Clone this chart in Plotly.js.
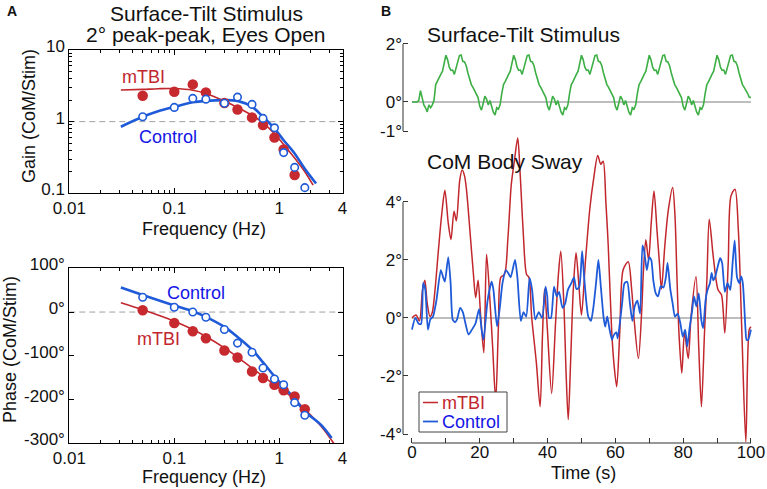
<!DOCTYPE html>
<html>
<head>
<meta charset="utf-8">
<script src="https://cdn.plot.ly/plotly-3.0.1.min.js"></script>
<style>
  html, body { margin: 0; padding: 0; background: #fff; }
  #chart { width: 767px; height: 489px; }
</style>
</head>
<body>
<div id="chart"></div>
<script>
// ---------------- Panel A: frequency response ----------------
const freqPoints   = [0.05, 0.1, 0.15, 0.2, 0.3, 0.4, 0.55, 0.7, 0.9, 1.1, 1.4, 1.75];
const gainMTBI     = [2.30, 2.61, 3.31, 2.56, 1.82, 1.48, 1.14, 0.90, 0.60, 0.41, 0.18];
const gainControl  = [1.17, 1.58, 2.11, 2.06, 1.81, 2.20, 1.74, 1.11, 0.82, 0.37, 0.23, 0.12];
const phaseMTBI    = [4, -25, -44, -60, -88, -104, -136, -151, -166, -179, -193, -222];
const phaseControl = [34, 11, 0, -12, -40, -71, -92, -128, -153, -166, -207, -236];

// model-fit curves
const fitFreqMTBI       = [0.031, 0.05, 0.07, 0.1, 0.15, 0.2, 0.3, 0.4, 0.55, 0.7, 0.9, 1.1, 1.4, 1.75, 2.1];
const fitGainMTBI       = [2.76, 2.82, 2.88, 2.9, 2.75, 2.48, 1.94, 1.58, 1.23, 0.96, 0.68, 0.48, 0.31, 0.2, 0.13];
const fitFreqControl    = [0.031, 0.05, 0.07, 0.1, 0.15, 0.2, 0.3, 0.4, 0.55, 0.7, 0.9, 1.1, 1.4, 1.75, 2.24];
const fitGainControl    = [0.85, 1.17, 1.4, 1.61, 1.86, 1.95, 2.0, 1.95, 1.61, 1.17, 0.8, 0.55, 0.36, 0.22, 0.137];
const fitPhFreqMTBI     = [0.031, 0.05, 0.1, 0.15, 0.2, 0.3, 0.4, 0.55, 0.7, 0.9, 1.1, 1.4, 1.75, 2.5, 3.3];
const fitPhaseMTBI      = [21, 5, -21, -40, -56, -82, -103, -128, -147, -166, -181, -199, -222, -261, -300];
const fitPhFreqControl  = [0.031, 0.05, 0.1, 0.15, 0.2, 0.3, 0.4, 0.55, 0.7, 0.9, 1.1, 1.4, 1.75, 2.5, 3.15];
const fitPhaseControl   = [56, 39, 15, 2, -11, -34, -57, -86, -115, -147, -170, -199, -227, -258, -288];

const freqLimits   = [0.01, 4];
const gainRef      = [1, 1];
const phaseRef     = [0, 0];
const freqTicks    = [0.01, 0.1, 1, 4];
const freqTickText = ['0.01', '0.1', '1', '4'];
const freqMinor    = [0.02,0.03,0.04,0.05,0.06,0.07,0.08,0.09,0.2,0.3,0.4,0.5,0.6,0.7,0.8,0.9,2,3];
const gainTicks    = [0.1, 1, 10];
const gainTickText = ['0.1', '1', '10'];
const gainMinor    = [0.2,0.3,0.4,0.5,0.6,0.7,0.8,0.9,2,3,4,5,6,7,8,9];
const phaseTicks   = [-300, -200, -100, 0, 100];
const phaseTickText= ['-300°', '-200°', '-100°', '0°', '100°'];

// ---------------- Panel B: time series ----------------
// stimulus sampled every 0.5 s from 0 to 100 s
const stimulus = [
  0, 0, 0, 0, 0.05, 0.39, 0.15, -0.1, -0.2, -0.34,
  -0.1, -0.2, -0.1, 0.06, 0.6, 0.7, 0.85, 0.95, 1.06, 1.3,
  1.61, 1.46, 1.2, 1.09, 1.1, 0.95, 1.2, 1.4, 1.6, 1.62,
  1.4, 1.38, 1.25, 1.0, 0.8, 0.6, 0.5, 0.4, 0.3, 0.15,
  -0.15, -0.28, -0.05, 0.2, 0.1, -0.1, 0.05, -0.2, -0.35, -0.45,
  -0.2, -0.25, -0.1, 0.3, 0.6, 0.7, 0.85, 0.95, 1.06, 1.3,
  1.61, 1.46, 1.2, 1.09, 1.1, 0.95, 1.2, 1.4, 1.6, 1.62,
  1.4, 1.38, 1.25, 1.0, 0.8, 0.6, 0.5, 0.4, 0.3, 0.15,
  -0.15, -0.28, -0.05, 0.2, 0.1, -0.1, 0.05, -0.2, -0.35, -0.45,
  -0.2, -0.25, -0.1, 0.3, 0.6, 0.7, 0.85, 0.95, 1.06, 1.3,
  1.61, 1.46, 1.2, 1.09, 1.1, 0.95, 1.2, 1.4, 1.6, 1.62,
  1.4, 1.38, 1.25, 1.0, 0.8, 0.6, 0.5, 0.4, 0.3, 0.15,
  -0.15, -0.28, -0.05, 0.2, 0.1, -0.1, 0.05, -0.2, -0.35, -0.45,
  -0.2, -0.25, -0.1, 0.3, 0.6, 0.7, 0.85, 0.95, 1.06, 1.3,
  1.61, 1.46, 1.2, 1.09, 1.1, 0.95, 1.2, 1.4, 1.6, 1.62,
  1.4, 1.38, 1.25, 1.0, 0.8, 0.6, 0.5, 0.4, 0.3, 0.15,
  -0.15, -0.28, -0.05, 0.2, 0.1, -0.1, 0.05, -0.2, -0.35, -0.45,
  -0.2, -0.25, -0.1, 0.3, 0.6, 0.7, 0.85, 0.95, 1.06, 1.3,
  1.61, 1.46, 1.2, 1.09, 1.1, 0.95, 1.2, 1.4, 1.6, 1.62,
  1.4, 1.38, 1.25, 1.0, 0.8, 0.6, 0.5, 0.41, 0.3, 0.17,
  0.15
];
const stimStart = 0, stimStep = 0.5;

const timeMTBI = [
  0, 1.2, 2.2, 3.1, 3.8, 4.5, 5.3, 6.0, 6.8, 7.8,
  8.8, 9.7, 10.7, 11.5, 12.4, 13.1, 14.1, 14.8, 15.5, 16.1,
  17.1, 18.1, 18.8, 19.5, 20.3, 21.2, 22.0, 23.0, 23.8, 24.7,
  25.5, 26.2, 27.3, 28.3, 29.3, 30.2, 31.2, 31.9, 32.8, 33.8,
  34.5, 35.3, 36.7, 37.8, 38.5, 39.1, 39.9, 41.2, 42.3, 43.2,
  43.9, 44.8, 45.5, 46.1, 46.8, 47.6, 48.4, 49.2, 50.0, 51.2,
  52.5, 53.6, 54.8, 55.7, 56.4, 57.2, 57.9, 58.9, 59.6, 60.4,
  61.3, 62.3, 63.8, 64.8, 65.5, 66.8, 67.8, 68.3, 69.0, 69.8,
  70.6, 71.4, 72.3, 73.0, 73.6, 74.6, 75.6, 76.9, 77.6, 78.2,
  78.8, 79.6, 80.4, 81.5, 82.3, 83.8, 84.6, 85.4, 86.3, 87.0,
  87.7, 88.9, 90.3, 91.3, 92.3, 93.3, 94.1, 95.3, 96.3, 97.3,
  98.5, 99.5, 100
];
const swayMTBI = [
  0, 0.1, -0.1, 0.97, 1.3, 0.5, 0.05, 0.2, 0.97, 2.34,
  3.6, 4.4, 3.27, 2.7, 3.68, 3.35, 4.76, 5.1, 4.9, 4.4,
  3.0, 1.55, 0.7, 1.3, 0.0, -1.2, 2.2, 0.6, -1.0, -2.85,
  -0.3, 1.4, 1.5, 2.75, 4.6, 5.4, 6.2, 5.0, 3.0, 1.5,
  1.4, 0.05, -1.55, -3.06, -0.6, 1.0, -0.3, -2.6, -0.3, 1.5,
  2.3, 0.5, -2.0, -3.5, -1.5, 1.0, 2.25, 1.2, 0.1, 2.0,
  3.8, 4.8, 5.6, 5.3, 5.4, 4.0, 2.5, -0.4, -1.6, -2.37,
  -0.5, 1.66, 1.94, 1.0, 0.0, -1.4, 0.3, 1.66, 2.7, 2.0,
  3.3, 4.38, 3.0, 1.9, 1.0, 2.5, 3.7, 4.5, 3.5, 1.3,
  -0.6, -1.9, -0.5, -1.4, 0.0, 1.43, -1.0, -3.06, -0.5, 1.3,
  3.4, 2.1, 0.97, 0.8, -0.52, 1.9, 4.2, 4.44, 3.0, -0.4,
  -4.27, -0.4, -0.3
];
const timeControl = [
  0, 1.0, 2.0, 2.7, 3.3, 3.9, 4.7, 5.4, 6.2, 7.2,
  8.5, 9.2, 9.7, 10.7, 11.4, 12.0, 12.7, 13.3, 14.2, 15.0,
  15.7, 16.7, 17.7, 18.7, 19.8, 20.6, 21.1, 22.3, 23.5, 24.0,
  25.1, 25.9, 26.7, 27.7, 28.4, 29.1, 30.4, 31.1, 32.1, 32.9,
  33.7, 34.7, 35.4, 36.4, 37.4, 38.4, 39.4, 39.9, 40.4, 41.0,
  41.9, 42.7, 43.4, 44.4, 45.2, 46.0, 47.0, 47.8, 48.5, 49.3,
  50.2, 50.8, 52.0, 52.8, 53.5, 54.3, 55.0, 55.7, 56.5, 57.0,
  57.6, 58.3, 59.0, 59.5, 60.3, 60.7, 61.3, 62.0, 62.7, 63.5,
  64.3, 65.0, 65.7, 66.5, 67.3, 68.0, 68.5, 69.3, 70.0, 70.6,
  71.2, 71.9, 72.6, 73.4, 74.2, 74.9, 75.4, 76.2, 76.9, 77.6,
  78.4, 79.2, 79.9, 80.6, 81.2, 81.9, 82.6, 83.2, 83.9, 84.6,
  85.4, 85.9, 86.6, 87.2, 87.9, 88.4, 88.9, 89.4, 90.2, 90.9,
  91.5, 92.3, 93.1, 93.9, 94.6, 95.2, 95.9, 96.6, 97.1, 97.6,
  98.4, 98.7, 99.2, 100
];
const swayControl = [
  -0.4, 0.0, -0.2, -0.2, 1.2, 1.0, -0.4, -0.05, 0.05, 0.6,
  1.65, 1.4, 1.25, 2.1, 1.2, -0.05, -0.15, -0.05, 0.35, 0.2,
  -0.15, -0.57, -0.4, -0.2, 0.3, -0.45, -0.75, 0.6, 1.25, 1.0,
  -0.29, 0.35, 1.2, 1.65, 1.55, 1.4, 2.0, 1.4, -0.1, 0.2,
  0.05, 1.38, 1.0, -0.05, 0.2, 0.0, 1.08, 0.75, 0.0, 0.0,
  1.08, 0.75, 0.9, 0.35, 0.5, 0.97, 1.2, 1.4, 1.0, 1.05,
  2.3, 1.4, 0.05, -0.1, 0.35, 1.2, 2.0, 1.1, 0.05, -0.3,
  0.05, -0.4, -0.75, -0.6, -0.5, -0.7, -0.2, 0.5, 1.2, 1.25,
  0.5, -0.1, 0.4, 0.6, 0.15, 2.5, 2.3, 1.65, 2.1, 2.0,
  1.3, 0.86, 0.75, 1.1, 1.05, 1.4, 1.9, 1.0, 0.5, 0.05,
  0.15, -0.2, -0.64, -0.4, -0.98, -0.35, 0.2, 0.74, 0.4, 0.85,
  -0.1, -0.35, 0.6, 0.97, 1.2, 1.55, 1.3, 1.4, 1.77, 2.06,
  1.9, 0.9, 1.2, 0.97, 1.9, 2.67, 1.4, 1.2, 1.43, 1.2,
  -0.4, -0.75, -0.75, -0.4
];
const timeLimits    = [0, 100];
const timeTicks     = [0, 20, 40, 60, 80, 100];
const stimTicks     = [-1, 0, 2];
const stimTickText  = ['-1°', '0°', '2°'];
const swayTicks     = [-4, -2, 0, 2, 4];
const swayTickText  = ['-4°', '-2°', '0°', '2°', '4°'];
const legendLabels  = ['mTBI', 'Control'];

// ---------------- styling ----------------
const W = 767, H = 489;
const fx = p => p / W;
const fy = p => 1 - p / H;
const FONT = 'Liberation Sans, Arial, Helvetica, sans-serif';
const RED = '#c1272d', RED_MK = '#c62a2f', BLUE = '#1f5bd8', BLUE_TXT = '#1414e6', GREEN = '#3daf45';

const traces = [
  // gain
  {x: freqLimits, y: gainRef, xaxis: 'x', yaxis: 'y', mode: 'lines', line: {color: '#a0a0a0', width: 1, dash: '6px,4px'}, showlegend: false, hoverinfo: 'skip'},
  {x: fitFreqMTBI, y: fitGainMTBI, xaxis: 'x', yaxis: 'y', mode: 'lines', line: {color: RED, width: 1.6, shape: 'spline'}, showlegend: false},
  {x: fitFreqControl, y: fitGainControl, xaxis: 'x', yaxis: 'y', mode: 'lines', line: {color: BLUE, width: 2.6, shape: 'spline'}, showlegend: false},
  {x: freqPoints.slice(0, gainMTBI.length), y: gainMTBI, xaxis: 'x', yaxis: 'y', mode: 'markers', marker: {color: RED_MK, size: 10.5, line: {width: 0}}, showlegend: false},
  {x: freqPoints, y: gainControl, xaxis: 'x', yaxis: 'y', mode: 'markers', marker: {color: '#fff', size: 7.5, line: {color: BLUE, width: 1.6}}, showlegend: false},
  // phase
  {x: freqLimits, y: phaseRef, xaxis: 'x2', yaxis: 'y2', mode: 'lines', line: {color: '#a0a0a0', width: 1, dash: '6px,4px'}, showlegend: false, hoverinfo: 'skip'},
  {x: fitPhFreqMTBI, y: fitPhaseMTBI, xaxis: 'x2', yaxis: 'y2', mode: 'lines', line: {color: RED, width: 1.6, shape: 'spline'}, showlegend: false},
  {x: fitPhFreqControl, y: fitPhaseControl, xaxis: 'x2', yaxis: 'y2', mode: 'lines', line: {color: BLUE, width: 2.6, shape: 'spline'}, showlegend: false},
  {x: freqPoints, y: phaseMTBI, xaxis: 'x2', yaxis: 'y2', mode: 'markers', marker: {color: RED_MK, size: 10.5, line: {width: 0}}, showlegend: false},
  {x: freqPoints, y: phaseControl, xaxis: 'x2', yaxis: 'y2', mode: 'markers', marker: {color: '#fff', size: 7.5, line: {color: BLUE, width: 1.6}}, showlegend: false},
  // stimulus
  {y: stimulus, x0: stimStart, dx: stimStep, xaxis: 'x3', yaxis: 'y3', mode: 'lines', line: {color: GREEN, width: 1.6}, showlegend: false},
  // body sway
  {x: timeMTBI, y: swayMTBI, xaxis: 'x4', yaxis: 'y4', mode: 'lines', name: legendLabels[0], line: {color: RED, width: 1.5, shape: 'spline', smoothing: 0.8}, showlegend: false},
  {x: timeControl, y: swayControl, xaxis: 'x4', yaxis: 'y4', mode: 'lines', name: legendLabels[1], line: {color: BLUE, width: 1.8, shape: 'spline', smoothing: 0.6}, showlegend: false}
];

const tickFont = {family: FONT, size: 17, color: '#111'};
const boxAxis = {
  showline: true, linecolor: '#000', linewidth: 1, mirror: 'ticks',
  ticks: 'inside', ticklen: 5, tickwidth: 1, tickcolor: '#000',
  showgrid: false, zeroline: false, tickfont: tickFont, tickmode: 'array'
};
const freqAxis = (dom, anchor) => Object.assign({}, boxAxis, {
  domain: dom, anchor: anchor, type: 'log', range: [Math.log10(freqLimits[0]), Math.log10(freqLimits[1])],
  tickvals: freqTicks, ticktext: freqTickText, ticklabelstandoff: -1,
  minor: {tickmode: 'array', tickvals: freqMinor, ticks: 'inside', ticklen: 3, tickcolor: '#000'}
});
const panelBY = (dom, anchor, range, tv, tt) => ({
  domain: dom, anchor: anchor, range: range, tickmode: 'array', tickvals: tv, ticktext: tt,
  ticks: 'inside', ticklen: 5, tickcolor: '#333', showline: false, showgrid: false, zeroline: false, tickfont: tickFont
});

const xDomB = [fx(403), fx(755)];
const xRangeB = [-2.65, 101.2];

// hand-drawn legend box (positions in pixels)
const LG = {x0: 419, x1: 507, y0: 392, y1: 432, row: [402.5, 421.5], sx0: 423, sx1: 438, tx: 440};

const layout = {
  width: W, height: H,
  margin: {l: 0, r: 0, t: 0, b: 0},
  paper_bgcolor: '#fff', plot_bgcolor: 'rgba(0,0,0,0)',
  font: {family: FONT, color: '#111'},
  showlegend: false,
  xaxis: freqAxis([fx(69.3), fx(342.5)], 'y'),
  yaxis: Object.assign({}, boxAxis, {
    domain: [fy(193.3), fy(50)], anchor: 'x', type: 'log', range: [-1, 1],
    tickvals: gainTicks, ticktext: gainTickText, ticklabelshift: -4,
    minor: {tickmode: 'array', tickvals: gainMinor, ticks: 'inside', ticklen: 3, tickcolor: '#000'}
  }),
  xaxis2: freqAxis([fx(69.3), fx(342.5)], 'y2'),
  yaxis2: Object.assign({}, boxAxis, {
    domain: [fy(443.3), fy(268.3)], anchor: 'x2', range: [-300, 100],
    tickvals: phaseTicks, ticktext: phaseTickText, ticklabelshift: -4
  }),
  xaxis3: {domain: xDomB, anchor: 'y3', range: xRangeB, visible: false},
  yaxis3: panelBY([fy(140), fy(30)], 'x3', [-1.31, 2.48], stimTicks, stimTickText),
  xaxis4: {
    domain: xDomB, anchor: 'y4', range: xRangeB, tickmode: 'array', tickvals: timeTicks, ticklabelstandoff: -3,
    ticks: 'inside', ticklen: 5, tickcolor: '#333', showline: false, showgrid: false, zeroline: false, tickfont: tickFont,
    minor: {dtick: 10, tick0: 0, ticks: 'inside', ticklen: 5, tickcolor: '#333'}
  },
  yaxis4: panelBY([fy(443), fy(130)], 'x4', [-4.31, 6.48], swayTicks, swayTickText),
  shapes: [
    {type: 'line', xref: 'x3', yref: 'y3', x0: timeLimits[0], x1: timeLimits[1], y0: 0, y1: 0, line: {color: '#a8a8a8', width: 1.5}, layer: 'below'},
    {type: 'line', xref: 'x4', yref: 'y4', x0: timeLimits[0], x1: timeLimits[1], y0: 0, y1: 0, line: {color: '#a8a8a8', width: 1.5}, layer: 'below'},
    {type: 'line', xref: 'paper', yref: 'y3', x0: fx(403), x1: fx(403), y0: stimTicks[0], y1: stimTicks[2], line: {color: '#333', width: 1}},
    {type: 'line', xref: 'paper', yref: 'y4', x0: fx(403), x1: fx(403), y0: swayTicks[0], y1: swayTicks[4], line: {color: '#333', width: 1}},
    {type: 'line', xref: 'x4', yref: 'paper', x0: timeLimits[0], x1: timeLimits[1], y0: fy(443), y1: fy(443), line: {color: '#333', width: 1.2}},
    // legend
    {type: 'rect', xref: 'paper', yref: 'paper', x0: fx(LG.x0), x1: fx(LG.x1), y0: fy(LG.y1), y1: fy(LG.y0), fillcolor: '#fff', line: {color: '#444', width: 1}},
    {type: 'line', xref: 'paper', yref: 'paper', x0: fx(LG.sx0), x1: fx(LG.sx1), y0: fy(LG.row[0]), y1: fy(LG.row[0]), line: {color: RED, width: 1.5}},
    {type: 'line', xref: 'paper', yref: 'paper', x0: fx(LG.sx0), x1: fx(LG.sx1), y0: fy(LG.row[1]), y1: fy(LG.row[1]), line: {color: BLUE, width: 1.8}}
  ],
  annotations: [
    {text: '<b>A</b>', x: fx(12), y: fy(11), font: {size: 14}},
    {text: '<b>B</b>', x: fx(386), y: fy(11), font: {size: 14}},
    {text: 'Surface-Tilt Stimulus', x: fx(206), y: fy(14), font: {size: 21}},
    {text: '2° peak-peak, Eyes Open', x: fx(206), y: fy(35), font: {size: 21}},
    {text: 'Gain (CoM/Stim)', x: fx(29), y: fy(116), textangle: -90, font: {size: 18}},
    {text: 'Frequency (Hz)', x: fx(204), y: fy(229), font: {size: 18}},
    {text: 'Phase (CoM/Stim)', x: fx(10), y: fy(350), textangle: -90, font: {size: 18}},
    {text: 'Frequency (Hz)', x: fx(204), y: fy(477), font: {size: 18}},
    {text: 'mTBI', x: fx(143), y: fy(77), font: {size: 18, color: RED}},
    {text: 'Control', x: fx(168), y: fy(137), font: {size: 18, color: BLUE_TXT}},
    {text: 'Control', x: fx(196), y: fy(293), font: {size: 18, color: BLUE_TXT}},
    {text: 'mTBI', x: fx(158), y: fy(339), font: {size: 18, color: RED}},
    {text: 'Surface-Tilt Stimulus', x: fx(425), y: fy(35), xanchor: 'left', font: {size: 21}},
    {text: 'CoM Body Sway', x: fx(425), y: fy(161), xanchor: 'left', font: {size: 21}},
    {text: 'Time (s)', x: fx(583), y: fy(473), font: {size: 18}},
    {text: legendLabels[0], x: fx(LG.tx), y: fy(LG.row[0]), xanchor: 'left', font: {size: 18, color: RED}},
    {text: legendLabels[1], x: fx(LG.tx), y: fy(LG.row[1]), xanchor: 'left', font: {size: 18, color: BLUE_TXT}}
  ].map(a => Object.assign({xref: 'paper', yref: 'paper', showarrow: false, xanchor: 'center', yanchor: 'middle'}, a))
};

Plotly.newPlot('chart', traces, layout, {displayModeBar: false, responsive: false});
</script>
</body>
</html>
